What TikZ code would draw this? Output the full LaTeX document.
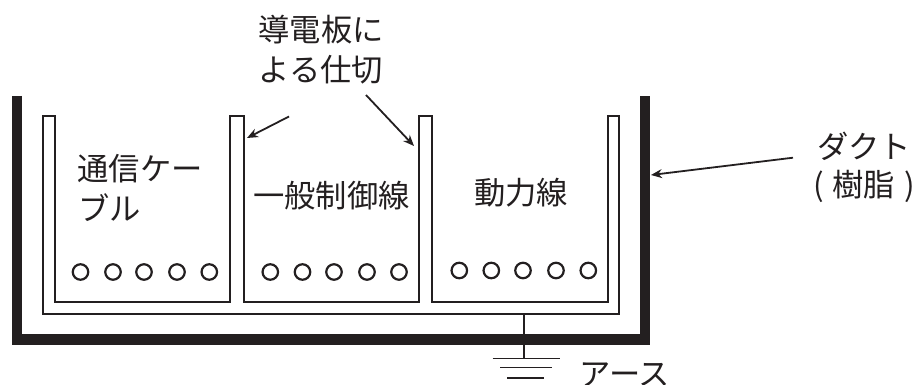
\documentclass[tikz,border=0pt]{standalone}
\usepackage{fontspec}
\newfontfamily\jp{Noto Sans CJK JP}[Scale=1]
\definecolor{ink}{HTML}{231F20}
\usetikzlibrary{arrows.meta}
\tikzset{
  x=1pt,y=-1pt,
  lab/.style={inner sep=0pt,text=ink,font=\jp\fontsize{31.3}{31.3}\selectfont,anchor=center},
  duct/.style={draw=ink,line width=10.5pt,line cap=butt,miter limit=10},
  wall/.style={draw=ink,line width=2pt,line join=miter},
  wire/.style={draw=ink,line width=2.2pt,fill=white},
  lead/.style={draw=ink,line width=1.8pt,-{Stealth[length=11pt,width=9pt]}},
  gnd/.style={draw=ink,line width=1.9pt}
}
\begin{document}
\begin{tikzpicture}
\useasboundingbox (0,0) rectangle (918,385);
% duct
\draw[duct] (17,96) -- (17,339.7) -- (645,339.7) -- (645,96);
% tray outer
\draw[wall] (42.5,313.5) -- (42.5,116.5) -- (54.5,116.5) -- (54.5,301.5) -- (230,301.5) -- (230,116.5) -- (243.8,116.5) -- (243.8,301.5) -- (418.7,301.5) -- (418.7,116.5) -- (432.3,116.5) -- (432.3,301.5) -- (607.7,301.5) -- (607.7,116.5) -- (618.8,116.5) -- (618.8,313.5) -- cycle;
% wires
\foreach \n/\x/\y in {a/80.5/272,b/113/272,c/144/272,d/177/272,e/209.3/272,
  f/270.3/272,g/302.5/272,h/334/272,i/367/272,j/399/272,
  k/459.3/270.5,l/491.3/270.5,m/523/270.5,n/556/270.5,o/588.3/270.5}
  \node[wire,circle,minimum size=15.5pt,inner sep=0pt] (w\n) at (\x,\y) {};
% labels
\node[lab] (t1a) at (321,30) {導電板に};
\node[lab] (t1b) at (321,70) {よる仕切};
\node[lab] (t2a) at (140,169) {通信ケー};
\node[lab] (t2b) at (109.5,208) {ブル};
\node[lab] (t3) at (331.5,196) {一般制御線};
\node[lab] (t4) at (521,193) {動力線};
\node[lab] (t5a) at (864,146) {ダクト};
\node[lab] (t5b) at (864,186) {(\hspace{9pt}樹脂\hspace{9pt})};
\node[lab] (t6) at (625,375) {アース};
% leaders
\coordinate (p1s) at (289,116.5);
\coordinate (p1e) at (247,138);
\coordinate (p2s) at (366,95);
\coordinate (p2e) at (414,146);
\coordinate (ds) at (793,157.7);
\coordinate (de) at (651,175);
\draw[lead] (p1s) -- (p1e);
\draw[lead] (p2s) -- (p2e);
\draw[lead] (ds) -- (de);
% ground
\coordinate (g0) at (524,314);
\coordinate (g1) at (524,358.5);
\coordinate (g2l) at (492.5,358.5);
\coordinate (g2r) at (560,358.5);
\coordinate (g3l) at (500,367.5);
\coordinate (g3r) at (552,367.5);
\coordinate (g4l) at (507,378);
\coordinate (g4r) at (544,378);
\draw[gnd] (g0) -- (g1);
\draw[gnd] (g2l) -- (g2r);
\draw[gnd] (g3l) -- (g3r);
\draw[gnd] (g4l) -- (g4r);
\end{tikzpicture}
\end{document}
